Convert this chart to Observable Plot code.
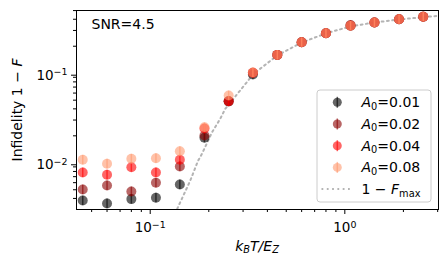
<!DOCTYPE html>
<html>
<head>
<meta charset="utf-8">
<script src="https://cdn.jsdelivr.net/npm/d3@7"></script>
<script src="https://cdn.jsdelivr.net/npm/@observablehq/plot@0.6"></script>
<style>
  html, body { margin: 0; padding: 0; background: white; }
  #chart { position: relative; width: 448px; height: 266px; }
</style>
</head>
<body>
<div id="chart"></div>
<script>
// ---- data ----
const temps = [0.045, 0.060, 0.080, 0.107, 0.142, 0.190, 0.253, 0.337, 0.450, 0.600, 0.800, 1.07, 1.42, 1.90, 2.53];
const seriesLabels = ["0.01", "0.02", "0.04", "0.08"];
const infA001 = [0.00379, 0.00351, 0.00393, 0.00407, 0.00573, 0.0190, 0.0485, 0.0967, 0.160, 0.222, 0.279, 0.338, 0.368, 0.401, 0.426];
const infA002 = [0.00503, 0.00558, 0.00479, 0.00598, 0.00910, 0.0202, 0.0485, 0.101, 0.160, 0.222, 0.279, 0.345, 0.368, 0.401, 0.426];
const infA004 = [0.00779, 0.00735, 0.00893, 0.00779, 0.01080, 0.0241, 0.0487, 0.101, 0.160, 0.222, 0.279, 0.338, 0.368, 0.401, 0.426];
const infA008 = [0.01080, 0.00975, 0.01109, 0.01125, 0.01347, 0.0249, 0.0564, 0.102, 0.160, 0.222, 0.279, 0.338, 0.368, 0.401, 0.426];
const fmaxT = [0.128, 0.1389, 0.160, 0.176, 0.1845, 0.208, 0.229, 0.243, 0.314, 0.337, 0.45, 0.60, 0.80, 1.07, 1.42, 1.90, 2.53, 3.03];
const fmaxInf = [0.0021, 0.0032, 0.0062, 0.0105, 0.0126, 0.022, 0.031, 0.040, 0.0795, 0.097, 0.158, 0.220, 0.278, 0.333, 0.368, 0.398, 0.423, 0.437];
const xMajorTicks = [0.1, 1];
const xMinorTicks = [0.05, 0.06, 0.07, 0.08, 0.09, 0.2, 0.3, 0.4, 0.5, 0.6, 0.7, 0.8, 0.9, 2, 3];
const yMajorTicks = [0.01, 0.1];
const yMinorTicks = [0.004, 0.005, 0.006, 0.007, 0.008, 0.009, 0.02, 0.03, 0.04, 0.05, 0.06, 0.07, 0.08, 0.09, 0.2, 0.3, 0.4, 0.5];
const annotation = "SNR=4.5";
// ---- styles ----
const colors = ["#000000", "#8b0000", "#ff0000", "#ff9a70"];
const alpha = 0.6;
const relErr = 0.12;
const fmaxColor = "#b4b4b4";
const fmaxDash = "1.8,3.5";

const seriesValues = [infA001, infA002, infA004, infA008];
const rows = [];
seriesValues.forEach((vals, si) => vals.forEach((v, i) => rows.push({s: si, t: temps[i], v})));
const fmax = fmaxT.map((t, i) => ({t, v: fmaxInf[i]}));

const fmtPow = d => {
  const e = Math.round(Math.log10(d));
  return "10^" + (e < 0 ? "\u2212" + (-e) : String(e));
};

const seriesMarks = seriesValues.flatMap((_, si) => {
  const data = rows.filter(r => r.s === si);
  return [
    Plot.ruleX(data, {x: "t", y1: d => d.v * (1 - relErr), y2: d => d.v * (1 + relErr),
      stroke: colors[si], strokeOpacity: alpha, strokeWidth: 1.5}),
    Plot.dot(data, {x: "t", y: "v", r: 5, fill: colors[si], fillOpacity: alpha, stroke: "none"})
  ];
});

const svg = Plot.plot({
  width: 448, height: 266,
  marginLeft: 76, marginRight: 10, marginTop: 10, marginBottom: 57,
  style: {fontFamily: "DejaVu Sans", fontSize: "13.5px", color: "black", background: "white"},
  x: {type: "log", domain: [0.0418, 3.03]},
  y: {type: "log", domain: [0.00301, 0.501]},
  marks: [
    Plot.line(fmax, {x: "t", y: "v", stroke: fmaxColor, strokeWidth: 2, strokeDasharray: fmaxDash, clip: true}),
    ...seriesMarks,
    Plot.frame({stroke: "black", strokeWidth: 1}),
    Plot.axisX({ticks: xMinorTicks, tickSize: 3, tickFormat: () => "", label: null}),
    Plot.axisX({ticks: xMajorTicks, tickSize: 5, tickPadding: 8, tickFormat: fmtPow, label: null}),
    Plot.axisY({ticks: yMinorTicks, tickSize: 3, tickFormat: () => "", label: null}),
    Plot.axisY({ticks: yMajorTicks, tickSize: 5, tickPadding: 4, dy: 2, tickFormat: fmtPow, label: null}),
    Plot.text([annotation], {frameAnchor: "top-left", textAnchor: "start", lineAnchor: "top", dx: 15, dy: 9, fontSize: 14, text: d => d})
  ]
});

const ns = "http://www.w3.org/2000/svg";
svg.querySelectorAll("text").forEach(t => {
  const m = /^10\^(.+)$/.exec(t.textContent);
  if (!m) return;
  t.textContent = "";
  const a = document.createElementNS(ns, "tspan"); a.textContent = "10";
  const b = document.createElementNS(ns, "tspan"); b.textContent = m[1];
  b.setAttribute("dy", "-0.45em"); b.setAttribute("font-size", "0.7em");
  t.append(a, b);
});

const s = d3.select(svg);
// y label
const yl = s.append("text")
  .attr("transform", "translate(22,110) rotate(-90)")
  .attr("text-anchor", "middle").attr("font-family", "DejaVu Sans").attr("font-size", 14).attr("fill", "black");
yl.append("tspan").text("Infidelity 1 \u2212 ");
yl.append("tspan").attr("font-style", "italic").text("F");
// x label
const xl = s.append("text")
  .attr("x", 257).attr("y", 251)
  .attr("text-anchor", "middle").attr("font-family", "DejaVu Sans").attr("font-size", 14).attr("fill", "black").attr("font-style", "italic");
xl.append("tspan").text("k");
xl.append("tspan").attr("font-size", "0.7em").attr("dy", "0.2em").text("B");
xl.append("tspan").attr("dy", "-0.14em").text("T/E");
xl.append("tspan").attr("font-size", "0.7em").attr("dy", "0.2em").text("Z");

// legend
const lg = s.append("g").attr("transform", "translate(317,90)")
  .attr("font-family", "DejaVu Sans").attr("font-size", 14).attr("text-anchor", "start");
lg.append("rect").attr("width", 114).attr("height", 112).attr("rx", 3)
  .attr("fill", "white").attr("fill-opacity", 0.8).attr("stroke", "#cccccc");
const rowY = i => 12.3 + i * 21.7;
seriesLabels.forEach((lab, i) => {
  const g = lg.append("g").attr("transform", `translate(20.3,${rowY(i)})`);
  g.append("line").attr("y1", -5.5).attr("y2", 5.5).attr("stroke", colors[i]).attr("stroke-opacity", alpha).attr("stroke-width", 1.5);
  g.append("circle").attr("r", 4.5).attr("fill", colors[i]).attr("fill-opacity", alpha);
  const t = lg.append("text").attr("x", 44.5).attr("y", rowY(i)).attr("dy", "0.36em").attr("fill", "black").attr("text-anchor", "start");
  t.append("tspan").attr("font-style", "italic").text("A");
  t.append("tspan").attr("font-size", "0.7em").attr("dy", "0.25em").text("0");
  t.append("tspan").attr("dy", "-0.175em").text("=" + lab);
});
lg.append("line").attr("x1", 4.5).attr("x2", 34.5).attr("y1", rowY(4)).attr("y2", rowY(4))
  .attr("stroke", fmaxColor).attr("stroke-width", 2).attr("stroke-dasharray", fmaxDash);
const ft = lg.append("text").attr("x", 44.5).attr("y", rowY(4)).attr("dy", "0.36em").attr("fill", "black").attr("text-anchor", "start");
ft.append("tspan").text("1 \u2212 ");
ft.append("tspan").attr("font-style", "italic").text("F");
ft.append("tspan").attr("font-size", "0.7em").attr("dy", "0.25em").text("max");

document.getElementById("chart").append(svg);
</script>
</body>
</html>
